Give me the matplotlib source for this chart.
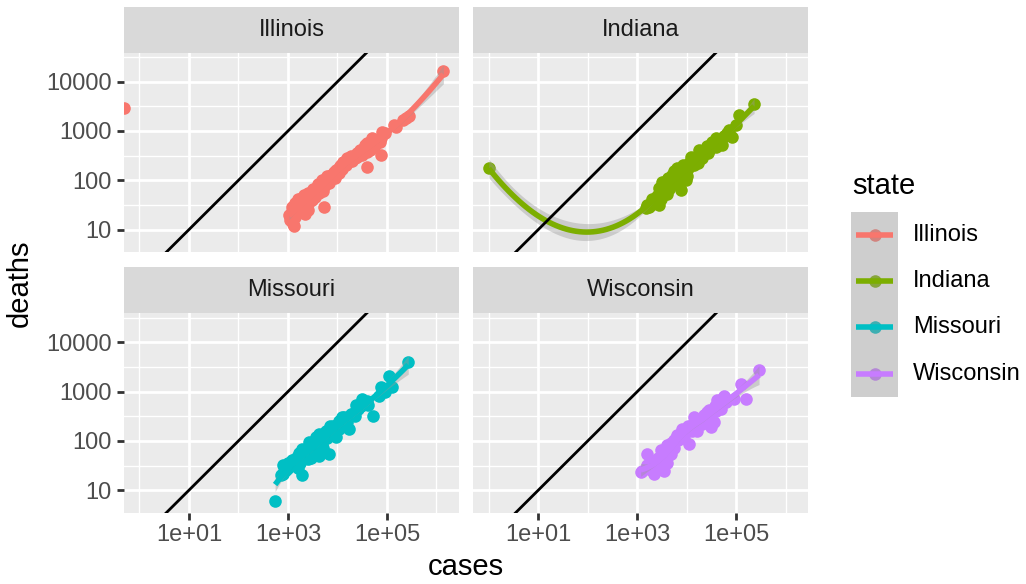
import numpy as np
import matplotlib
matplotlib.use("Agg")
import matplotlib.pyplot as plt
from matplotlib.ticker import FixedLocator, FixedFormatter, NullFormatter

plt.rcParams["font.family"] = ["Liberation Sans", "DejaVu Sans"]

# ---------------------------------------------------------------- data
states = ["Illinois", "Indiana", "Missouri", "Wisconsin"]
state_colors = ["#F8766D", "#7CAE00", "#00BFC4", "#C77CFF"]

illinois_cases = [0, 1380000, 282000, 240000, 214000, 151000, 138000, 79400, 75900,
                  66100, 56200, 74100, 36300, 44700, 50100, 39800, 31600, 39800, 22400,
                  19100, 15800, 17800, 14100, 13200, 11200, 10500, 8320, 7240, 8910,
                  6310, 4900, 4170, 5010, 4570, 3800, 3630, 5250, 3160, 2630, 1950,
                  2240, 1410, 1580, 2570, 2240, 1780, 1230, 1120, 1290, 1320, 1050,
                  1200, 1510, 1780, 50100,
                  1260, 1410, 1660, 1910, 2090, 2400, 2820, 3310, 3980, 4470, 5620,
                  6030, 7080, 7940, 9550, 12000, 13200, 20000, 25100, 28200, 35500,
                  41700, 47900, 60300, 89100, 70800,
                  1120, 1410, 1580, 2000, 2510, 3020, 3550, 4170, 5010, 5620, 6610,
                  7590, 8910, 10500, 12600, 15100, 3980, 3160, 2510, 2140, 1780,
                  1320, 25100, 31600, 39800, 50100]
illinois_deaths = [2900, 16400, 2000, 1820, 1660, 1200, 1320, 955, 708,
                   631, 525, 324, 513, 417, 603, 562, 398, 186, 282,
                   316, 282, 251, 224, 200, 191, 178, 148, 126, 112,
                   105, 100, 79, 71, 89, 63, 55, 29, 50, 46, 44,
                   38, 35, 42, 25, 21, 28, 29, 19, 13, 12, 20,
                   24, 32, 35, 708,
                   25, 22, 33, 30, 42, 35, 52, 60, 71, 63, 95,
                   120, 105, 132, 158, 200, 240, 251, 355, 417, 398,
                   501, 457, 562, 891, 603,
                   16, 18, 24, 26, 33, 40, 46, 56, 60, 79, 89,
                   112, 132, 141, 166, 200, 83, 66, 55, 50, 42,
                   30, 302, 331, 380, 479]

indiana_cases = [1, 229000, 115000, 97700, 72400, 83200, 52500, 38900, 32400, 25100,
                 28200, 17800, 20400, 12000, 14100, 15800, 6310, 5010, 7590, 9550,
                 8320, 5620, 4170, 4470, 3160, 2750, 3720, 7590, 3550, 3980, 2510,
                 2750, 1740, 1480, 1860, 2240, 3020, 4790, 6030, 7080, 10000, 11200,
                 22400, 41700, 63100,
                 2820, 3310, 3800, 4170, 4790, 5250, 3550, 3020, 6610, 7940, 8910,
                 10500, 12600, 15100, 19100, 24000, 30200, 35500, 47900, 56200,
                 66100, 2000, 2400,
                 1580, 2000, 2630, 3160, 3800, 4470, 5010, 5620, 6310, 7080, 3980,
                 3550, 8320, 10000, 13200, 16600, 20000, 26300, 33100, 39800]
indiana_deaths = [174, 3470, 2090, 1320, 1050, 759, 513, 708, 603, 501,
                  417, 407, 324, 302, 204, 251, 178, 126, 141, 100,
                  200, 151, 112, 89, 93, 69, 63, 63, 79, 52, 47,
                  32, 29, 27, 32, 38, 42, 79, 112, 95, 158, 224,
                  380, 562, 832,
                  56, 71, 89, 76, 100, 85, 52, 63, 126, 112, 151,
                  178, 200, 282, 331, 417, 479, 562, 661, 794,
                  891, 35, 40,
                  32, 42, 50, 60, 71, 66, 89, 95, 105, 132, 100,
                  89, 141, 120, 240, 224, 282, 355, 501, 479]

missouri_cases = [269000, 110000, 129000, 74100, 69200, 51300, 31600, 23400, 18600,
                  13800, 10700, 17400, 7940, 5750, 4270, 3630, 9330, 2690, 1950, 6760,
                  4270, 2880, 1450, 1070, 776, 776, 1950, 550, 1260, 1580, 2240, 3160,
                  5010, 6310, 3980, 7080, 12600, 15800, 8910, 2510, 1000, 1780, 5010,
                  39800, 89100, 3550,
                  891, 1120, 1320, 1510, 1660, 2000, 2400, 2820, 3310, 3800, 4570,
                  5250, 6310, 7590, 8320, 10000, 11500, 14100, 20000, 26300, 3020,
                  1780, 4790,
                  832, 1000, 1200, 1410, 1660, 2000, 2240, 2630, 3160, 3550, 4170,
                  5010, 6030, 7080, 8320, 10500, 12600, 15800, 22400, 30200, 41700,
                  2510, 1580, 708]
missouri_deaths = [4070, 2090, 1230, 1230, 832, 324, 708, 525, 355,
                   302, 257, 174, 204, 162, 138, 120, 120, 95, 69, 55,
                   50, 44, 44, 35, 32, 21, 20, 6, 38, 50, 60, 83,
                   112, 141, 89, 178, 224, 282, 158, 71, 28, 35, 71,
                   631, 1000, 66,
                   26, 32, 35, 42, 48, 52, 60, 71, 76, 100, 112,
                   126, 158, 151, 191, 209, 251, 263, 355, 447, 52,
                   40, 83,
                   25, 35, 40, 33, 56, 60, 48, 79, 63, 95, 76,
                   141, 112, 200, 158, 178, 302, 240, 316, 501, 525,
                   42, 28, 20]

wisconsin_cases = [288000, 123000, 155000, 91200, 56200, 41700, 49000, 28200, 26300,
                   30900, 35500, 14100, 16200, 12000, 8130, 6460, 5500, 11200, 4070,
                   2950, 4790, 3800, 1580, 3470, 2190, 1170, 2510, 2000, 3160, 7080,
                   8910, 20000, 39800, 5010, 2820, 3980,
                   2240, 2630, 3310, 3800, 4470, 5250, 6030, 7590, 9550, 11200, 13200,
                   17800, 22400, 33100, 44700, 52500, 3550, 1780, 2820,
                   1260, 1580, 1910, 2400, 3020, 3550, 4170, 4790, 5620, 6610, 7940,
                   8910, 10500, 12600, 15100, 20000, 25100, 38000, 63100]
wisconsin_deaths = [2690, 1450, 708, 708, 832, 661, 447, 417, 302,
                    191, 240, 302, 162, 204, 174, 129, 102, 87, 81,
                    65, 55, 44, 55, 25, 21, 23, 40, 32, 50, 112,
                    141, 282, 398, 71, 30, 35,
                    35, 45, 56, 63, 76, 89, 112, 126, 158, 191, 224,
                    251, 331, 417, 562, 708, 42, 30, 33,
                    25, 33, 26, 30, 42, 60, 50, 89, 71, 105, 151,
                    112, 200, 158, 263, 224, 380, 501, 603]

cases_by_state = [illinois_cases, indiana_cases, missouri_cases, wisconsin_cases]
deaths_by_state = [illinois_deaths, indiana_deaths, missouri_deaths, wisconsin_deaths]

# reference line deaths = cases (log10 intercept 0, slope 1)
abline_intercept = 0.0
abline_slope = 1.0

x_major = [1e1, 1e3, 1e5]
x_major_labels = ["1e+01", "1e+03", "1e+05"]
x_minor = [1e0, 1e2, 1e4, 1e6]
y_major = [10, 100, 1000, 10000]
y_major_labels = ["10", "100", "1000", "10000"]
y_minor = [10 ** 1.5, 10 ** 2.5, 10 ** 3.5, 10 ** 4.5]

# shared (log10) axis limits
xlim_log = (-0.313, 6.455)
ylim_log = (0.539, 4.588)


# ---------------------------------------------------------------- loess
def t_quantile_975(df):
    z = 1.959963985
    g1 = (z ** 3 + z) / 4
    g2 = (5 * z ** 5 + 16 * z ** 3 + 3 * z) / 96
    g3 = (3 * z ** 7 + 19 * z ** 5 + 17 * z ** 3 - 15 * z) / 384
    return z + g1 / df + g2 / df ** 2 + g3 / df ** 3


def loess(x, y, x_eval, span=0.75, cell=0.2):
    """Local quadratic loess, fitted at kd-tree vertices and blended with
    cubic Hermite interpolation between them (loess surface='interpolate')."""
    n = len(x)
    q = int(np.floor(n * span))
    fc = int(np.floor(n * span * cell))
    xs = np.sort(x)
    lo, hi = xs[0], xs[-1]
    mu = 0.005 * max(hi - lo, 1e-10 * max(abs(lo), abs(hi)) + 1e-30)
    lo, hi = lo - mu, hi + mu
    verts = [lo, hi]

    def split(l, u, a, b):
        if u - l + 1 <= fc:
            return
        m = (l + u + 2) // 2 - 1
        offset = 0
        while l <= m + offset < u:
            if xs[m + offset] == xs[m + offset + 1]:
                offset = -offset
                if offset >= 0:
                    offset += 1
            else:
                m = m + offset
                break
        t = xs[m]
        if t == a or t == b:
            return
        verts.append(t)
        split(l, m, a, t)
        split(m + 1, u, t, b)

    split(0, n - 1, lo, hi)
    V = np.unique(verts)

    def local_rows(x0):
        d = np.abs(x - x0)
        h = max(np.sort(d)[q - 1] * max(1.0, span), 1e-12)
        u = np.clip(d / h, 0, 1)
        w = (1 - u ** 3) ** 3
        X = np.column_stack([np.ones(n), x - x0, (x - x0) ** 2])
        WX = X * w[:, None]
        sol = np.linalg.lstsq(X.T @ WX, WX.T, rcond=None)[0]
        return sol[0], sol[1]

    R0, R1 = zip(*[local_rows(v) for v in V])
    R0, R1 = np.array(R0), np.array(R1)

    def operator(points):
        rows = []
        for xv in points:
            k = int(np.clip(np.searchsorted(V, xv, side="right") - 1, 0, len(V) - 2))
            a, b = V[k], V[k + 1]
            hh = b - a
            t = (xv - a) / hh
            phi0 = (1 - t) ** 2 * (1 + 2 * t)
            phi1 = t ** 2 * (3 - 2 * t)
            psi0 = t * (1 - t) ** 2
            psi1 = -t ** 2 * (1 - t)
            rows.append(phi0 * R0[k] + phi1 * R0[k + 1]
                        + (psi0 * R1[k] + psi1 * R1[k + 1]) * hh)
        return np.array(rows)

    L = operator(x)
    Le = operator(x_eval)
    fit = Le @ y
    resid = y - L @ y
    M = np.eye(n) - L
    MM = M.T @ M
    d1 = np.trace(MM)
    d2 = np.trace(MM @ MM)
    sigma = np.sqrt(np.sum(resid ** 2) / d1)
    se = sigma * np.sqrt(np.sum(Le ** 2, axis=1))
    tq = t_quantile_975(d1 ** 2 / d2)
    return fit, fit - tq * se, fit + tq * se


# ---------------------------------------------------------------- layout
W, H = 1026, 584
fig = plt.figure(figsize=(W / 100, H / 100), dpi=100)
fig.patch.set_facecolor("white")


def px_rect(x0, y0, x1, y1):
    return [x0 / W, 1 - y1 / H, (x1 - x0) / W, (y1 - y0) / H]


col_x = [(124, 459), (473.3, 808.3)]
row_panel_y = [(52.7, 252.3), (313.3, 512.9)]
row_strip_y = [(7.3, 52.7), (267.3, 313.3)]

TICK_FS = 17
TITLE_FS = 21
GREY30 = "#4D4D4D"
POINT_S = 82
SMOOTH_LW = 4.0

for i, state in enumerate(states):
    r, c = divmod(i, 2)
    x0, x1 = col_x[c]
    py0, py1 = row_panel_y[r]
    sy0, sy1 = row_strip_y[r]

    # strip
    sax = fig.add_axes(px_rect(x0, sy0, x1, sy1))
    sax.set_facecolor("#D9D9D9")
    sax.set_xticks([])
    sax.set_yticks([])
    for sp in sax.spines.values():
        sp.set_visible(False)
    sax.text(0.5, 0.5, state, ha="center", va="center", fontsize=TICK_FS,
             color="#1A1A1A", transform=sax.transAxes)

    # panel
    ax = fig.add_axes(px_rect(x0, py0, x1, py1))
    ax.set_facecolor("#EBEBEB")
    ax.set_xscale("log")
    ax.set_yscale("log")
    ax.set_xlim(10 ** xlim_log[0], 10 ** xlim_log[1])
    ax.set_ylim(10 ** ylim_log[0], 10 ** ylim_log[1])
    for sp in ax.spines.values():
        sp.set_visible(False)

    ax.xaxis.set_major_locator(FixedLocator(x_major))
    ax.xaxis.set_minor_locator(FixedLocator(x_minor))
    ax.yaxis.set_major_locator(FixedLocator(y_major))
    ax.yaxis.set_minor_locator(FixedLocator(y_minor))
    ax.xaxis.set_minor_formatter(NullFormatter())
    ax.yaxis.set_minor_formatter(NullFormatter())
    ax.grid(which="minor", color="white", linewidth=1.0)
    ax.grid(which="major", color="white", linewidth=2.0)
    ax.set_axisbelow(True)
    ax.tick_params(which="minor", length=0)

    if r == 1:
        ax.xaxis.set_major_formatter(FixedFormatter(x_major_labels))
        ax.tick_params(axis="x", which="major", length=5.0, width=2.0, color="#333333",
                       pad=3.0, labelsize=TICK_FS, labelcolor=GREY30)
    else:
        ax.tick_params(axis="x", which="major", length=0, labelbottom=False)
    if c == 0:
        ax.yaxis.set_major_formatter(FixedFormatter(y_major_labels))
        ax.tick_params(axis="y", which="major", length=5.0, width=2.0, color="#333333",
                       pad=4.0, labelsize=TICK_FS, labelcolor=GREY30)
    else:
        ax.tick_params(axis="y", which="major", length=0, labelleft=False)

    cases = np.array(cases_by_state[i], dtype=float)
    deaths = np.array(deaths_by_state[i], dtype=float)
    color = state_colors[i]

    # points; zero cases sit on the left panel edge like -Inf on a log scale
    finite = cases > 0
    x_plot = np.where(finite, cases, 10 ** xlim_log[0])
    ax.scatter(x_plot, deaths, s=POINT_S, color=color, linewidths=0, zorder=2)

    # loess smooth with 95% band, fitted on log10 scale
    lx = np.log10(cases[finite])
    ly = np.log10(deaths[finite])
    order = np.argsort(lx)
    lx, ly = lx[order], ly[order]
    xs = np.linspace(lx.min(), lx.max(), 80)
    fit, lo, hi = loess(lx, ly, xs)
    ax.fill_between(10 ** xs, 10 ** lo, 10 ** hi, color="#999999", alpha=0.4,
                    linewidth=0, zorder=3)
    ax.plot(10 ** xs, 10 ** fit, color=color, linewidth=SMOOTH_LW, zorder=4,
            solid_capstyle="butt")

    # reference line
    ax_x = np.array(xlim_log)
    ax.plot(10 ** ax_x, 10 ** (abline_intercept + abline_slope * ax_x),
            color="black", linewidth=2.0, zorder=5)

# axis titles
fig.text(466 / W, 1 - 567 / H, "cases", ha="center", va="center",
         fontsize=TITLE_FS, color="black")
fig.text(20 / W, 1 - 282.8 / H, "deaths", ha="center", va="center",
         rotation=90, fontsize=TITLE_FS, color="black")

# ---------------------------------------------------------------- legend
lax = fig.add_axes([0, 0, 1, 1], facecolor="none")
lax.set_xlim(0, W)
lax.set_ylim(H, 0)
lax.axis("off")
lax.text(852, 186, "state", ha="left", va="center", fontsize=TITLE_FS, color="black")
key_top, key_h, key_x, key_w = 211.7, 46.25, 851, 47
for i, state in enumerate(states):
    ky = key_top + i * key_h
    cy = ky + key_h / 2
    lax.add_patch(plt.Rectangle((key_x, ky), key_w, key_h, facecolor="#F2F2F2",
                                edgecolor="none", zorder=1))
    lax.scatter([key_x + key_w / 2], [cy], s=POINT_S, color=state_colors[i],
                linewidths=0, zorder=2)
    lax.add_patch(plt.Rectangle((key_x, ky), key_w, key_h, facecolor="#999999",
                                alpha=0.4, edgecolor="none", zorder=3))
    lax.plot([key_x + 5, key_x + key_w - 5], [cy, cy], color=state_colors[i],
             linewidth=SMOOTH_LW, zorder=4, solid_capstyle="butt")
    lax.text(913, cy, state, ha="left", va="center", fontsize=TICK_FS, color="black")

fig.savefig("out.png", dpi=100)
